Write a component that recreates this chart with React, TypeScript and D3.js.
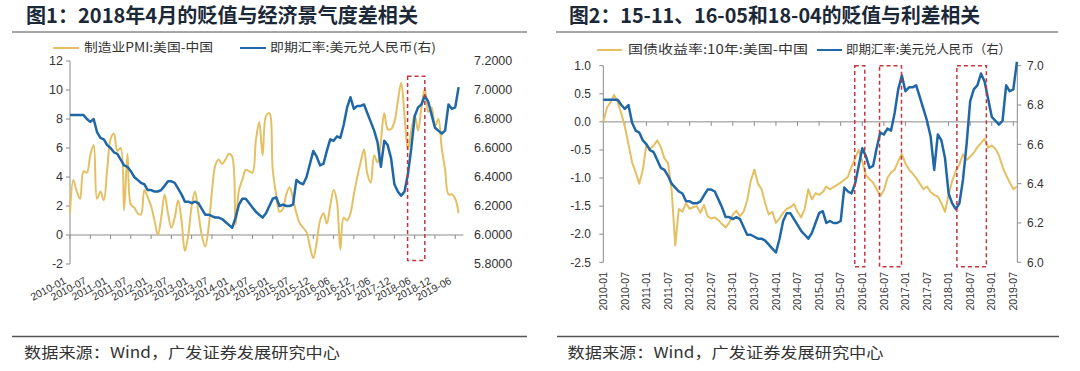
import * as d3 from "d3";

// 月度数据，起点 2010-01，终点 2019-08
const pmiSpread = [
  1.5, 3.8, 3.0, 2.5, 4.4, 4.3, 5.5, 6.2, 2.5, 3.0,
  2.4, 4.5, 6.6, 7.0, 5.8, 6.0, 1.7, 5.6, 2.1, 1.9,
  1.5, 1.4, 3.1, 2.6, 2.0, 1.0, 0.0, 1.2, 2.8, 1.5,
  0.5, 1.2, 2.4, 1.0, -1.1, 0.0, 2.0, 3.0, 1.5, 0.0,
  -0.8, 0.5, 3.0, 4.8, 5.2, 4.9, 5.2, 5.6, 5.4, 0.7,
  3.1, 3.8, 4.5, 4.4, 4.3, 6.5, 7.8, 5.5, 8.2, 8.4,
  4.5, 2.8, 1.6, 1.8, 2.8, 3.3, 2.5, 1.5, 0.8, 0.5,
  0.2, -0.8, -1.6, -0.5, 1.0, 1.5, 0.8, 2.0, 3.1, 2.3,
  -1.0, 1.2, 1.0, 1.5, 2.8, 4.0, 5.0, 5.9, 4.2, 3.6,
  5.5, 5.0, 6.5, 8.4, 7.3, 7.3, 7.8, 9.2, 10.5, 8.2,
  5.9, 7.2, 8.3, 7.2, 8.8, 10.1, 8.5, 8.8, 7.5, 8.0,
  6.0, 4.5, 2.8, 2.8, 2.5, 1.5,
];

const usdCny = [
  6.827, 6.827, 6.827, 6.827, 6.827, 6.80, 6.78, 6.80, 6.71, 6.67,
  6.66, 6.62, 6.60, 6.57, 6.56, 6.52, 6.48, 6.47, 6.44, 6.40,
  6.38, 6.36, 6.35, 6.31, 6.31, 6.30, 6.30, 6.31, 6.34, 6.37,
  6.37, 6.36, 6.32, 6.28, 6.23, 6.23, 6.22, 6.23, 6.22, 6.18,
  6.14, 6.14, 6.13, 6.12, 6.12, 6.11, 6.09, 6.07, 6.05, 6.12,
  6.21, 6.25, 6.25, 6.22, 6.19, 6.16, 6.14, 6.12, 6.15, 6.20,
  6.25, 6.26, 6.20, 6.21, 6.20, 6.20, 6.21, 6.38, 6.36, 6.35,
  6.40, 6.49, 6.58, 6.54, 6.48, 6.49, 6.58, 6.66, 6.65, 6.68,
  6.67, 6.76, 6.88, 6.95, 6.87, 6.89, 6.89, 6.90, 6.84, 6.78,
  6.72, 6.64, 6.47, 6.65, 6.62, 6.53, 6.35, 6.30, 6.27, 6.30,
  6.42, 6.60, 6.82, 6.88, 6.90, 6.96, 6.92, 6.83, 6.74, 6.72,
  6.70, 6.72, 6.90, 6.87, 6.88, 7.02,
];

const bondSpread = [
  0.0, 0.25, 0.35, 0.48, 0.35, 0.15, -0.09, -0.4, -0.72, -0.9,
  -1.1, -0.85, -0.4, -0.48, -0.42, -0.33, -0.45, -0.65, -0.74, -1.21,
  -2.2, -1.55, -1.6, -1.45, -1.55, -1.52, -1.5, -1.62, -1.48, -1.68,
  -1.72, -1.7, -1.75, -1.82, -1.88, -1.8, -1.65, -1.58, -1.68, -1.6,
  -1.4, -1.05, -0.85, -1.1, -1.2, -1.45, -1.65, -1.6, -1.8, -1.72,
  -1.62, -1.55, -1.52, -1.46, -1.6, -1.7, -1.55, -1.2, -1.38, -1.27,
  -1.3, -1.25, -1.15, -1.2, -1.16, -1.12, -1.08, -1.03, -0.98, -0.8,
  -0.65, -0.5, -0.7, -0.95, -1.02, -1.08, -1.2, -1.32, -1.22, -1.0,
  -0.9, -0.85, -0.7, -0.57, -0.74, -0.85, -0.92, -1.0, -1.1, -1.2,
  -1.15, -1.25, -1.3, -1.33, -1.45, -1.6, -1.3, -1.05, -0.88, -0.76,
  -0.58, -0.68, -0.62, -0.55, -0.45, -0.38, -0.3, -0.46, -0.42, -0.48,
  -0.6, -0.8, -0.95, -1.08, -1.2, -1.15,
];

const leftDates = [
  "2010-01", "2010-07", "2011-01", "2011-07", "2012-01", "2012-07", "2013-01",
  "2013-07", "2014-01", "2014-07", "2015-01", "2015-07", "2015-12", "2016-06",
  "2016-12", "2017-06", "2017-12", "2018-06", "2018-12", "2019-06",
];
const rightDates = [
  "2010-01", "2010-07", "2011-01", "2011-07", "2012-01", "2012-07", "2013-01",
  "2013-07", "2014-01", "2014-07", "2015-01", "2015-07", "2016-01", "2016-07",
  "2017-01", "2017-07", "2018-01", "2018-07", "2019-01", "2019-07",
];
const leftTicks = [12, 10, 8, 6, 4, 2, 0, -2];
const leftTicksR = [7.2, 7.0, 6.8, 6.6, 6.4, 6.2, 6.0, 5.8];
const rightTicks = [1.0, 0.5, 0.0, -0.5, -1.0, -1.5, -2.0, -2.5];
const rightTicksR = [7.0, 6.8, 6.6, 6.4, 6.2, 6.0];

// 虚线框：[起始月, 结束月]
const leftBoxes = [[99.9, 105.0]];
const rightBoxes = [[69.9, 72.7], [76.8, 82.9], [98.3, 106.5]];

const YELLOW = "#E4C063";
const BLUE = "#1F67A6";
const RED = "#C4363E";
const GRAY = "#8a8a8a";
const CJK = "'Noto Sans CJK SC', sans-serif";
const NUM = "'Liberation Sans', Arial, sans-serif";

const months = d3.range(pmiSpread.length);

function LeftChart() {
  const x = d3.scaleLinear().domain([0, 116]).range([70, 462]);
  const y = d3.scaleLinear().domain([-2, 12]).range([264, 61]);
  const y2 = d3.scaleLinear().domain([5.8, 7.2]).range([264, 61]);

  const pmiLine = d3.line<number>()
    .x((d, i) => x(i))
    .y((d) => y(d))
    .curve(d3.curveCatmullRom.alpha(0.5));
  const fxLine = d3.line<number>()
    .x((d, i) => x(i))
    .y((d) => y2(d));

  const x0 = x(0);
  const yZero = y(0);

  return (
    <g>
      <text x={26} y={23} fontFamily={CJK} fontWeight="bold" fontSize={20} fill="#1b2838"
        textLength={392} lengthAdjust="spacingAndGlyphs">图1：2018年4月的贬值与经济景气度差相关</text>
      <line x1={12} x2={527} y1={32} y2={32} stroke={GRAY} strokeWidth={1.5} />

      <line x1={53} x2={79} y1={48} y2={48} stroke={YELLOW} strokeWidth={2} />
      <text x={84} y={52} fontFamily={CJK} fontSize={12.5} fill="#333"
        textLength={129} lengthAdjust="spacingAndGlyphs">制造业PMI:美国-中国</text>
      <line x1={240} x2={266} y1={48} y2={48} stroke={BLUE} strokeWidth={2} />
      <text x={270} y={52} fontFamily={CJK} fontSize={12.5} fill="#333"
        textLength={166} lengthAdjust="spacingAndGlyphs">即期汇率:美元兑人民币(右)</text>

      {/* 左轴 */}
      <line x1={x0} x2={x0} y1={y(12)} y2={y(-2)} stroke={GRAY} />
      {leftTicks.map((t) => (
        <g key={t}>
          <line x1={x0 - 4} x2={x0} y1={y(t)} y2={y(t)} stroke={GRAY} />
          <text x={63} y={y(t)} dy="0.35em" textAnchor="end" fontFamily={NUM} fontSize={12.5} fill="#333">{t}</text>
        </g>
      ))}
      {/* 右轴标签 */}
      {leftTicksR.map((t) => (
        <text key={t} x={474} y={y2(t)} dy="0.35em" fontFamily={NUM} fontSize={12.5} fill="#333">{t.toFixed(4)}</text>
      ))}

      {/* 横轴 */}
      <line x1={x0} x2={x(116.4)} y1={yZero} y2={yZero} stroke={GRAY} />
      {leftDates.map((d, k) => (
        <g key={d}>
          <line x1={x(k * 6)} x2={x(k * 6)} y1={yZero} y2={yZero + 4} stroke={GRAY} />
          <text transform={`translate(${x(k * 6) - 3},283) rotate(-28)`} textAnchor="end"
            fontFamily={NUM} fontSize={10.5} fill="#333">{d}</text>
        </g>
      ))}

      <path d={pmiLine(pmiSpread) ?? ""} fill="none" stroke={YELLOW} strokeWidth={2} />
      <path d={fxLine(usdCny) ?? ""} fill="none" stroke={BLUE} strokeWidth={2.5} strokeLinejoin="round" />

      {leftBoxes.map(([a, b]) => (
        <rect key={a} x={x(a)} y={y(10.95)} width={x(b) - x(a)} height={y(-1.75) - y(10.95)}
          fill="none" stroke={RED} strokeWidth={1.5} strokeDasharray="4 3" />
      ))}

      <line x1={12} x2={527} y1={336.5} y2={336.5} stroke="#555" strokeWidth={1.5} />
      <text x={24} y={358} fontFamily={CJK} fontSize={15} fill="#333"
        textLength={316} lengthAdjust="spacingAndGlyphs">数据来源：Wind，广发证券发展研究中心</text>
    </g>
  );
}

function RightChart() {
  const x = d3.scaleLinear().domain([0, 115.1]).range([603.3, 1017.3]);
  const y = d3.scaleLinear().domain([-2.5, 1.0]).range([262.3, 65.7]);
  const y2 = d3.scaleLinear().domain([6.0, 7.0]).range([262.3, 65.7]);

  const bondLine = d3.line<number>().x((d, i) => x(i)).y((d) => y(d));
  const fxLine = d3.line<number>().x((d, i) => x(i)).y((d) => y2(d));

  const x0 = x(0);
  const x1 = x(115.1);
  const yZero = y(0);

  return (
    <g>
      <text x={569} y={23} fontFamily={CJK} fontWeight="bold" fontSize={20} fill="#1b2838"
        textLength={411} lengthAdjust="spacingAndGlyphs">图2：15-11、16-05和18-04的贬值与利差相关</text>
      <line x1={556} x2={1058} y1={32} y2={32} stroke={GRAY} strokeWidth={1.5} />

      <line x1={597} x2={622} y1={50} y2={50} stroke={YELLOW} strokeWidth={2} />
      <text x={628} y={54} fontFamily={CJK} fontSize={12.5} fill="#333"
        textLength={180} lengthAdjust="spacingAndGlyphs">国债收益率:10年:美国-中国</text>
      <line x1={817} x2={842} y1={50} y2={50} stroke={BLUE} strokeWidth={2} />
      <text x={846} y={54} fontFamily={CJK} fontSize={12.5} fill="#333"
        textLength={165} lengthAdjust="spacingAndGlyphs">即期汇率:美元兑人民币（右）</text>

      <line x1={x0} x2={x0} y1={y(1)} y2={y(-2.5)} stroke={GRAY} />
      {rightTicks.map((t) => (
        <g key={t}>
          <line x1={x0 - 4} x2={x0} y1={y(t)} y2={y(t)} stroke={GRAY} />
          <text x={591} y={y(t)} dy="0.35em" textAnchor="end" fontFamily={NUM} fontSize={12} fill="#333">{t.toFixed(1)}</text>
        </g>
      ))}
      <line x1={x1} x2={x1} y1={y2(7)} y2={y2(6)} stroke={GRAY} />
      {rightTicksR.map((t) => (
        <g key={t}>
          <line x1={x1} x2={x1 + 4} y1={y2(t)} y2={y2(t)} stroke={GRAY} />
          <text x={1027} y={y2(t)} dy="0.35em" fontFamily={NUM} fontSize={12} fill="#333">{t.toFixed(1)}</text>
        </g>
      ))}

      <line x1={x0} x2={x1} y1={yZero} y2={yZero} stroke={GRAY} />
      {rightDates.map((d, k) => (
        <g key={d}>
          {k > 0 && <line x1={x(k * 6)} x2={x(k * 6)} y1={yZero} y2={yZero + 4} stroke={GRAY} />}
          <text transform={`translate(${x(k * 6)},272) rotate(-90)`} textAnchor="end" dy="0.35em"
            fontFamily={NUM} fontSize={10.5} fill="#333">{d}</text>
        </g>
      ))}

      <path d={bondLine(bondSpread) ?? ""} fill="none" stroke={YELLOW} strokeWidth={2} strokeLinejoin="round" />
      <path d={fxLine(usdCny) ?? ""} fill="none" stroke={BLUE} strokeWidth={2.5} strokeLinejoin="round" />

      {rightBoxes.map(([a, b]) => (
        <rect key={a} x={x(a)} y={y(1.0)} width={x(b) - x(a)} height={y(-2.58) - y(1.0)}
          fill="none" stroke={RED} strokeWidth={1.5} strokeDasharray="4 3" />
      ))}

      <line x1={557} x2={1059} y1={336.5} y2={336.5} stroke="#555" strokeWidth={1.5} />
      <text x={567.5} y={358} fontFamily={CJK} fontSize={15} fill="#333"
        textLength={316} lengthAdjust="spacingAndGlyphs">数据来源：Wind，广发证券发展研究中心</text>
    </g>
  );
}

export default function App() {
  return (
    <svg width={1080} height={371} style={{ position: "absolute", left: 0, top: 0, background: "#fff" }}>
      <rect width={1080} height={371} fill="#fff" />
      <LeftChart />
      <RightChart />
      {months.length > 0 && null}
    </svg>
  );
}
